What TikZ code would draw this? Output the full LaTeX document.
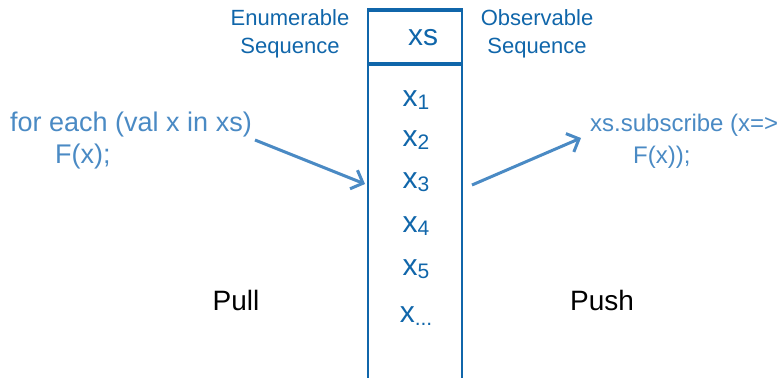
\documentclass[tikz,border=0pt]{standalone}
\usepackage{fontspec}
\setmainfont{Liberation Sans}
\usetikzlibrary{arrows.meta}
\definecolor{boxblue}{RGB}{16,102,170}
\definecolor{lightblue}{RGB}{74,138,196}
\newcommand{\xsub}[1]{x\raisebox{-3pt}{\fontsize{21}{22}\selectfont #1}}
\tikzset{
  item/.style={text=boxblue, font=\fontsize{30}{30}\selectfont, anchor=center, inner sep=0pt},
  head/.style={text=boxblue, font=\fontsize{22}{28}\selectfont, align=center, inner sep=0pt},
  code/.style={text=lightblue, font=\fontsize{27}{30}\selectfont, inner sep=0pt},
  coder/.style={text=lightblue, font=\fontsize{24}{30}\selectfont, inner sep=0pt},
  side/.style={text=black, font=\fontsize{28}{30}\selectfont, inner sep=0pt},
  conn/.style={draw=lightblue, line width=3pt, -{Straight Barb[length=10pt,width=20pt,line width=3pt]}},
}
\begin{document}
\begin{tikzpicture}[x=1pt,y=-1pt]
\useasboundingbox (0,0) rectangle (783,377);
% box
\coordinate (tl) at (368,10);
\coordinate (tr) at (462,10);
\coordinate (bl) at (368,380);
\coordinate (br) at (462,380);
\draw[boxblue, line width=2.2pt] (tl) -- (bl);
\draw[boxblue, line width=2.2pt] (tr) -- (br);
\draw[boxblue, line width=4.5pt] (367,10) -- (463,10);
\draw[boxblue, line width=4.5pt] (367,64) -- (463,64);
\node[item] (xs) at (423,38) {xs};
\node[item] (x1) at (416,100) {\xsub{1}};
\node[item] (x2) at (416,140) {\xsub{2}};
\node[item] (x3) at (416,182) {\xsub{3}};
\node[item] (x4) at (416,226) {\xsub{4}};
\node[item] (x5) at (416,269) {\xsub{5}};
\node[item] (xd) at (416,316) {\xsub{...}};
\node[head] (enum) at (290,34) {Enumerable\\Sequence};
\node[head] (obs) at (537,34) {Observable\\Sequence};
\node[code, anchor=west] (forl) at (10,125) {for each (val x in xs)};
\node[code, anchor=west] (forf) at (55,157) {F(x);};
\node[coder, anchor=west] (subl) at (590,125) {xs.subscribe (x=>};
\node[coder, anchor=west] (subf) at (633,157) {F(x));};
\coordinate (a1) at (255,140);
\coordinate (a2) at (365,184);
\coordinate (b1) at (472,185);
\coordinate (b2) at (581,138);
\draw[conn] (a1) -- (a2);
\draw[conn] (b1) -- (b2);
\node[side] (pull) at (236,300) {Pull};
\node[side] (push) at (602,300) {Push};
\end{tikzpicture}
\end{document}
